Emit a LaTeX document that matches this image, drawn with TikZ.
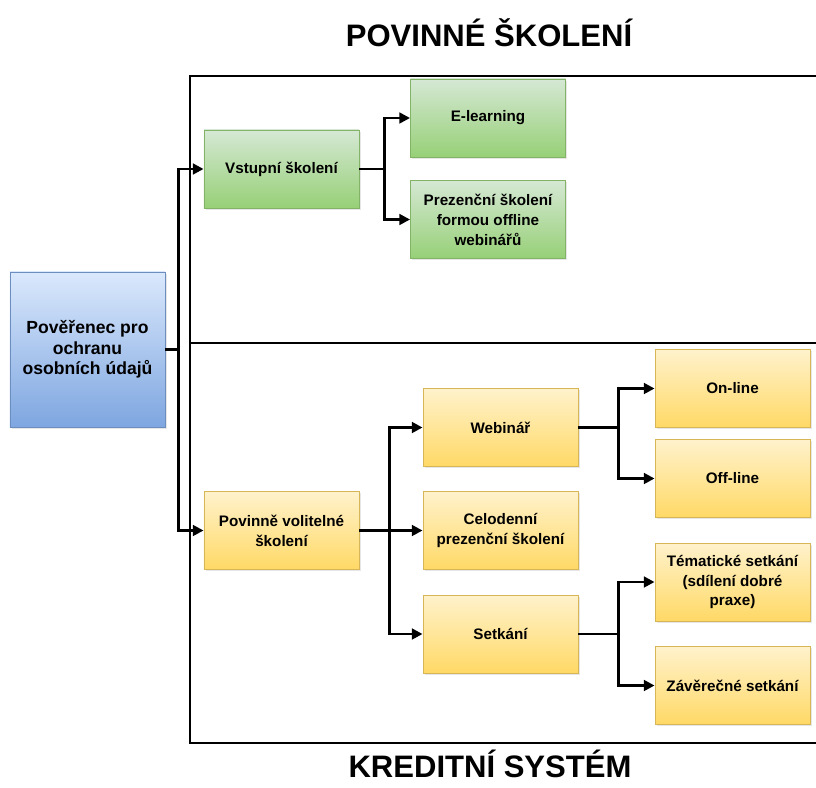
\documentclass[tikz,border=0pt]{standalone}
\usepackage{fontspec}
\setmainfont{Liberation Sans}
\usetikzlibrary{arrows.meta, positioning, shadows}

\definecolor{bluetop}{HTML}{DAE8FC}
\definecolor{bluebot}{HTML}{7EA6E0}
\definecolor{blueline}{HTML}{6C8EBF}
\definecolor{grntop}{HTML}{D5E8D4}
\definecolor{grnbot}{HTML}{97D077}
\definecolor{grnline}{HTML}{82B366}
\definecolor{ylwtop}{HTML}{FFF2CC}
\definecolor{ylwbot}{HTML}{FFD966}
\definecolor{ylwline}{HTML}{D6B656}

\begin{document}
\begin{tikzpicture}[
      x=0.03cm, y=-0.03cm,
      box/.style={draw, line width=0.8pt, minimum width=4.65cm, minimum height=2.34cm, align=center,
        font=\fontsize{13}{17}\selectfont\bfseries,
        drop shadow={opacity=0.2, shadow xshift=1.5pt, shadow yshift=-1.5pt}},
      role/.style={box, draw=blueline, top color=bluetop, bottom color=bluebot, minimum height=4.65cm,
        font=\fontsize{15}{17.5}\selectfont\bfseries},
      grn/.style={box, draw=grnline, top color=grntop, bottom color=grnbot},
      ylw/.style={box, draw=ylwline, top color=ylwtop, bottom color=ylwbot},
      arr/.style={line width=2.2pt, -{Triangle[width=9pt, length=9pt]}},
      frame/.style={line width=2pt},
      heading/.style={anchor=base, font=\fontsize{26.5}{30}\selectfont\bfseries}]
      \useasboundingbox (0,0) rectangle (816,787);

      % section frame
      \draw[frame] (816,76) -- (190,76) -- (190,743) -- (816,743);
      \draw[frame] (190,343) -- (816,343);
      \node[heading] (povinne) at (489,47) {POVINNÉ ŠKOLENÍ};
      \node[heading] (kredit) at (490,777) {KREDITNÍ SYSTÉM};

      \node[role] (dpo) at (87.5,349.5) {Pověřenec pro\\ochranu\\osobních údajů};

      % povinne skoleni
      \node[grn] (vstupni) at (281.5,169) {Vstupní školení};
      \node[grn] (elearn) at (488,118) {E-learning};
      \node[grn] (prezencni) at (488,219.5) {Prezenční školení\\formou offline\\webinářů};

      % kreditni system
      \node[ylw] (volitelne) at (281.5,530.5) {Povinně volitelné\\školení};
      \node[ylw] (webinar) at (500.5,427.5) {Webinář};
      \node[ylw] (celodenni) at (500.5,530.5) {Celodenní\\prezenční školení};
      \node[ylw] (setkani) at (500.5,634) {Setkání};
      \node[ylw] (online) at (732.5,388.5) {On-line};
      \node[ylw] (offline) at (732.5,478.5) {Off-line};
      \node[ylw] (tematicke) at (732.5,582) {Tématické setkání\\(sdílení dobré\\praxe)};
      \node[ylw] (zaverecne) at (732.5,685.5) {Závěrečné setkání};

      \draw[arr] (dpo.east) -- ++(13,0) |- (vstupni.west);
      \draw[arr] (dpo.east) -- ++(13,0) |- (volitelne.west);
      \draw[arr] (vstupni.east) -- ++(25,0) |- (elearn.west);
      \draw[arr] (vstupni.east) -- ++(25,0) |- (prezencni.west);
      \draw[arr] (volitelne.east) -- ++(30,0) |- (webinar.west);
      \draw[arr] (volitelne.east) -- (celodenni.west);
      \draw[arr] (volitelne.east) -- ++(30,0) |- (setkani.west);
      \draw[arr] (webinar.east) -- ++(40,0) |- (online.west);
      \draw[arr] (webinar.east) -- ++(40,0) |- (offline.west);
      \draw[arr] (setkani.east) -- ++(40,0) |- (tematicke.west);
      \draw[arr] (setkani.east) -- ++(40,0) |- (zaverecne.west);
\end{tikzpicture}
\end{document}
